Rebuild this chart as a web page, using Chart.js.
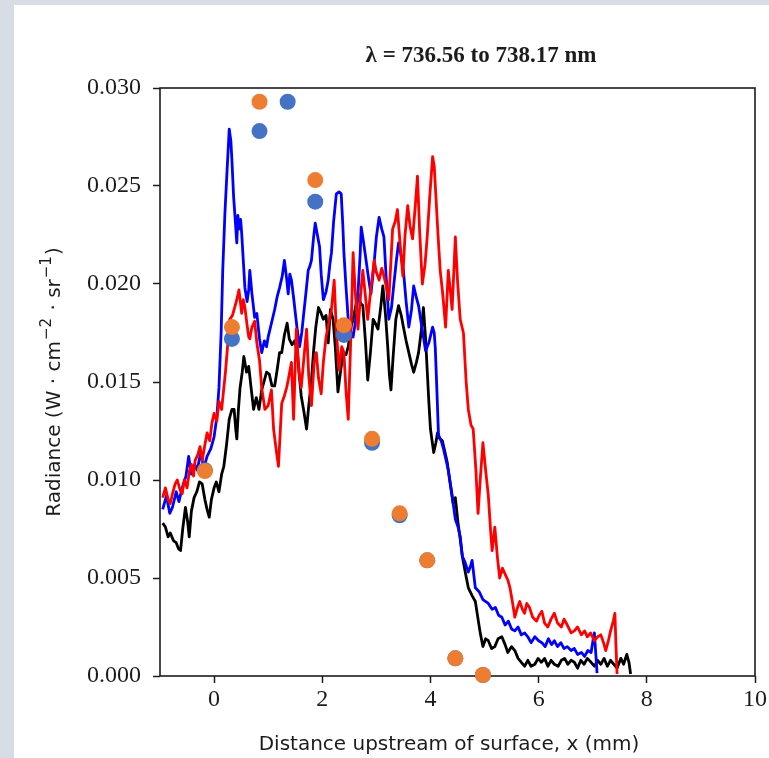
<!DOCTYPE html>
<html>
<head>
<meta charset="utf-8">
<script src="https://cdn.jsdelivr.net/npm/chart.js@4.4.1/dist/chart.umd.min.js"></script>
<style>
  html, body { margin: 0; padding: 0; }
  body { width: 769px; height: 758px; background: #d6dde4; position: relative; overflow: hidden; }
  .panel { position: absolute; left: 14px; top: 5px; right: 0; bottom: 0; background: #fff; }
  canvas { position: absolute; left: 0; top: 0; }
</style>
</head>
<body>
<div class="panel"></div>
<canvas id="chart" width="769" height="758"></canvas>
<script>
// axis ticks
const xTicks = [0, 2, 4, 6, 8, 10];
const yTicks = [0, 0.005, 0.010, 0.015, 0.020, 0.025, 0.030];

const chartTitle = 'λ = 736.56 to 738.17 nm';
const xTitle = 'Distance upstream of surface, x (mm)';

// measured profiles (x in mm, radiance in W cm^-2 sr^-1)
const blackX = [
  -0.95,-0.90,-0.85,-0.81,-0.75,-0.70,-0.66,-0.62,-0.58,-0.53,
  -0.49,-0.46,-0.42,-0.37,-0.32,-0.27,-0.22,-0.17,-0.13,-0.09,
  -0.05,0.00,0.04,0.09,0.14,0.18,0.23,0.28,0.33,0.37,
  0.40,0.42,0.45,0.48,0.52,0.55,0.60,0.64,0.68,0.73,
  0.78,0.83,0.88,0.93,0.97,1.02,1.07,1.12,1.17,1.21,
  1.25,1.30,1.35,1.39,1.44,1.49,1.54,1.58,1.61,1.66,
  1.71,1.75,1.80,1.84,1.88,1.93,1.98,2.02,2.07,2.11,
  2.15,2.20,2.24,2.29,2.34,2.39,2.44,2.48,2.53,2.57,
  2.62,2.66,2.71,2.75,2.80,2.84,2.89,2.94,2.98,3.03,
  3.08,3.12,3.17,3.21,3.24,3.27,3.31,3.36,3.41,3.46,
  3.50,3.55,3.60,3.65,3.69,3.74,3.78,3.83,3.87,3.91,
  3.94,3.97,4.00,4.03,4.06,4.10,4.13,4.18,4.22,4.27,
  4.31,4.36,4.42,4.46,4.51,4.55,4.59,4.65,4.70,4.77,
  4.83,4.88,4.92,4.97,5.02,5.07,5.13,5.19,5.25,5.32,
  5.38,5.43,5.50,5.56,5.62,5.68,5.74,5.80,5.86,5.93,
  5.99,6.05,6.11,6.17,6.23,6.29,6.36,6.42,6.48,6.54,
  6.60,6.66,6.72,6.78,6.84,6.90,6.97,7.03,7.09,7.15,
  7.21,7.27,7.33,7.39,7.45,7.52,7.57,7.63,7.67,7.70
];
const blackY = [
  0.0078,0.0076,0.0071,0.0073,0.0069,0.0068,0.0065,0.0064,0.0075,0.0086,
  0.0079,0.0071,0.0084,0.0091,0.0094,0.0099,0.0098,0.0090,0.0085,0.0081,
  0.0090,0.0096,0.0099,0.0094,0.0103,0.0107,0.0118,0.0131,0.0136,0.0136,
  0.0126,0.0121,0.0136,0.0147,0.0155,0.0163,0.0155,0.0158,0.0148,0.0136,
  0.0142,0.0136,0.0146,0.0151,0.0155,0.0154,0.0148,0.0148,0.0157,0.0165,
  0.0165,0.0174,0.0180,0.0172,0.0169,0.0171,0.0165,0.0152,0.0143,0.0135,
  0.0126,0.0138,0.0151,0.0166,0.0178,0.0188,0.0185,0.0182,0.0184,0.0170,
  0.0187,0.0182,0.0168,0.0145,0.0156,0.0165,0.0164,0.0168,0.0178,0.0182,
  0.0189,0.0195,0.0190,0.0189,0.0170,0.0151,0.0165,0.0182,0.0180,0.0177,
  0.0188,0.0199,0.0184,0.0168,0.0154,0.0146,0.0163,0.0182,0.0189,0.0184,
  0.0178,0.0171,0.0165,0.0159,0.0155,0.0160,0.0165,0.0176,0.0188,0.0172,
  0.0156,0.0140,0.0126,0.0120,0.0114,0.0119,0.0124,0.0121,0.0120,0.0114,
  0.0109,0.0099,0.0088,0.0091,0.0078,0.0070,0.0061,0.0052,0.0045,0.0041,
  0.0038,0.0029,0.0022,0.0015,0.0019,0.0018,0.0014,0.0015,0.0019,0.0020,
  0.0016,0.0012,0.0015,0.0013,0.0009,0.0007,0.0005,0.0008,0.0005,0.0006,
  0.0009,0.0007,0.0009,0.0005,0.0008,0.0006,0.0005,0.0008,0.0009,0.0006,
  0.0008,0.0007,0.0004,0.0008,0.0006,0.0009,0.0007,0.0005,0.0008,0.0006,
  0.0009,0.0005,0.0008,0.0006,0.0004,0.0009,0.0006,0.0011,0.0007,0.0001
];

const blueX = [
  -0.95,-0.88,-0.82,-0.77,-0.70,-0.65,-0.59,-0.52,-0.47,-0.42,
  -0.36,-0.31,-0.25,-0.19,-0.13,-0.06,0.00,0.05,0.09,0.13,
  0.16,0.20,0.24,0.28,0.31,0.33,0.36,0.39,0.42,0.44,
  0.46,0.49,0.51,0.54,0.57,0.61,0.64,0.66,0.70,0.75,
  0.79,0.84,0.88,0.93,0.97,1.00,1.06,1.12,1.17,1.21,
  1.26,1.30,1.34,1.37,1.40,1.43,1.47,1.49,1.54,1.58,
  1.62,1.65,1.70,1.74,1.77,1.80,1.84,1.87,1.91,1.95,
  1.98,2.02,2.07,2.11,2.14,2.17,2.21,2.26,2.31,2.35,
  2.38,2.40,2.44,2.48,2.52,2.57,2.62,2.66,2.70,2.72,
  2.76,2.81,2.86,2.90,2.95,3.00,3.05,3.10,3.14,3.18,
  3.23,3.28,3.32,3.37,3.41,3.46,3.50,3.55,3.60,3.65,
  3.69,3.74,3.78,3.84,3.91,3.97,4.04,4.07,4.09,4.12,
  4.15,4.20,4.24,4.29,4.33,4.38,4.42,4.46,4.51,4.55,
  4.59,4.64,4.70,4.74,4.77,4.83,4.90,4.97,5.07,5.14,
  5.20,5.26,5.32,5.38,5.44,5.50,5.56,5.62,5.68,5.74,
  5.80,5.86,5.93,6.00,6.06,6.12,6.18,6.24,6.29,6.35,
  6.41,6.47,6.53,6.60,6.66,6.72,6.79,6.85,6.91,6.97,
  7.01,7.03,7.06,7.08
];
const blueY = [
  0.0085,0.0092,0.0083,0.0086,0.0094,0.0089,0.0096,0.0102,0.0112,0.0103,
  0.0108,0.0105,0.0114,0.0106,0.0112,0.0116,0.0122,0.0132,0.0147,0.0175,
  0.0207,0.0236,0.0258,0.0279,0.0273,0.0263,0.0245,0.0233,0.0221,0.0235,
  0.0228,0.0233,0.0226,0.0212,0.0198,0.0191,0.0197,0.0207,0.0195,0.0183,
  0.0185,0.0172,0.0165,0.0171,0.0168,0.0173,0.0180,0.0187,0.0194,0.0198,
  0.0204,0.0212,0.0203,0.0195,0.0205,0.0202,0.0193,0.0188,0.0176,0.0168,
  0.0175,0.0183,0.0196,0.0207,0.0209,0.0212,0.0224,0.0231,0.0225,0.0219,
  0.0205,0.0192,0.0196,0.0202,0.0210,0.0216,0.0232,0.0246,0.0247,0.0246,
  0.0230,0.0216,0.0198,0.0182,0.0176,0.0173,0.0182,0.0195,0.0215,0.0229,
  0.0222,0.0212,0.0202,0.0195,0.0208,0.0224,0.0234,0.0228,0.0224,0.0204,
  0.0182,0.0188,0.0199,0.0212,0.0221,0.0214,0.0207,0.0191,0.0178,0.0187,
  0.0199,0.0193,0.0189,0.0178,0.0166,0.0170,0.0178,0.0175,0.0167,0.0145,
  0.0122,0.0120,0.0116,0.0110,0.0105,0.0096,0.0088,0.0080,0.0076,0.0071,
  0.0061,0.0058,0.0053,0.0056,0.0059,0.0045,0.0043,0.0039,0.0037,0.0034,
  0.0035,0.0031,0.0030,0.0026,0.0028,0.0024,0.0023,0.0025,0.0021,0.0022,
  0.0020,0.0017,0.0020,0.0018,0.0017,0.0015,0.0019,0.0016,0.0018,0.0015,
  0.0017,0.0014,0.0015,0.0013,0.0014,0.0011,0.0012,0.0010,0.0013,0.0012,
  0.0019,0.0022,0.0010,0.00015
];

const redX = [
  -0.95,-0.90,-0.85,-0.81,-0.76,-0.72,-0.68,-0.63,-0.59,-0.55,
  -0.50,-0.46,-0.42,-0.38,-0.35,-0.30,-0.26,-0.22,-0.17,-0.13,
  -0.08,-0.04,0.00,0.05,0.09,0.14,0.18,0.21,0.24,0.27,
  0.29,0.34,0.39,0.42,0.46,0.49,0.51,0.54,0.57,0.61,
  0.64,0.66,0.70,0.75,0.79,0.84,0.88,0.94,1.00,1.06,
  1.10,1.15,1.19,1.22,1.25,1.30,1.34,1.37,1.43,1.47,
  1.52,1.57,1.61,1.66,1.71,1.75,1.80,1.85,1.89,1.93,
  1.98,2.02,2.07,2.12,2.17,2.22,2.26,2.31,2.36,2.40,
  2.44,2.48,2.53,2.57,2.61,2.66,2.71,2.75,2.80,2.84,
  2.90,2.96,3.00,3.05,3.10,3.14,3.19,3.23,3.27,3.30,
  3.35,3.39,3.44,3.49,3.53,3.58,3.62,3.67,3.72,3.76,
  3.80,3.85,3.90,3.94,3.99,4.04,4.07,4.09,4.14,4.18,
  4.23,4.28,4.33,4.37,4.40,4.43,4.46,4.50,4.55,4.61,
  4.66,4.70,4.75,4.79,4.84,4.88,4.92,4.97,5.02,5.07,
  5.11,5.14,5.19,5.24,5.28,5.33,5.38,5.43,5.47,5.52,
  5.56,5.61,5.65,5.70,5.74,5.78,5.83,5.89,5.96,6.01,
  6.06,6.11,6.17,6.23,6.29,6.35,6.42,6.47,6.53,6.60,
  6.66,6.72,6.79,6.85,6.90,6.96,7.03,7.09,7.15,7.20,
  7.24,7.29,7.33,7.38,7.41,7.43,7.45
];
const redY = [
  0.0091,0.0096,0.0090,0.0088,0.0094,0.0098,0.0100,0.0095,0.0093,0.0100,
  0.0096,0.0104,0.0108,0.0102,0.0110,0.0113,0.0117,0.0110,0.0118,0.0124,
  0.0120,0.0129,0.0134,0.0130,0.0140,0.0136,0.0147,0.0155,0.0165,0.0176,
  0.0182,0.0184,0.0189,0.0192,0.0197,0.0190,0.0185,0.0192,0.0188,0.0179,
  0.0173,0.0172,0.0178,0.0181,0.0170,0.0161,0.0147,0.0136,0.0138,0.0146,
  0.0126,0.0115,0.0107,0.0123,0.0139,0.0143,0.0147,0.0151,0.0160,0.0131,
  0.0177,0.0155,0.0147,0.0162,0.0177,0.0153,0.0138,0.0160,0.0165,0.0152,
  0.0144,0.0160,0.0173,0.0180,0.0187,0.0202,0.0176,0.0156,0.0168,0.0165,
  0.0145,0.0131,0.0175,0.0216,0.0196,0.0177,0.0195,0.0207,0.0193,0.0182,
  0.0198,0.0212,0.0206,0.0202,0.0208,0.0204,0.0198,0.0192,0.0212,0.0228,
  0.0232,0.0238,0.0220,0.0204,0.0225,0.0240,0.0230,0.0223,0.0240,0.0255,
  0.0227,0.0200,0.0210,0.0224,0.0246,0.0265,0.0260,0.0250,0.0225,0.0207,
  0.0194,0.0178,0.0207,0.0196,0.0187,0.0205,0.0224,0.0202,0.0182,0.0175,
  0.0150,0.0136,0.0128,0.0126,0.0105,0.0083,0.0100,0.0119,0.0105,0.0092,
  0.0075,0.0064,0.0076,0.0060,0.0050,0.0055,0.0052,0.0049,0.0045,0.0037,
  0.0030,0.0035,0.0038,0.0034,0.0032,0.0037,0.0035,0.0030,0.0028,0.0031,
  0.0033,0.0027,0.0025,0.0029,0.0032,0.0027,0.0025,0.0029,0.0026,0.0022,
  0.0023,0.0025,0.0021,0.0023,0.0020,0.0022,0.0018,0.0020,0.0021,0.0017,
  0.0013,0.0018,0.0023,0.0028,0.0032,0.0015,0.0001
];

// model points
const blueDotX = [-0.17, 0.33, 0.84, 1.36, 1.87, 2.40, 2.92, 3.43, 3.94, 4.46, 4.97];
const blueDotY = [0.0105, 0.0172, 0.0278, 0.0293, 0.0242, 0.0174, 0.0119, 0.0082, 0.0059, 0.0009, 0.00005];
const orangeDotX = [-0.17, 0.33, 0.84, 1.87, 2.40, 2.92, 3.43, 3.94, 4.46, 4.97];
const orangeDotY = [0.01046, 0.0178, 0.0293, 0.0253, 0.0179, 0.0121, 0.0083, 0.0059, 0.0009, 0.00005];

const toPoints = (xs, ys) => xs.map((x, i) => ({ x, y: ys[i] }));

const lineSet = (xs, ys, color) => ({
  data: toPoints(xs, ys),
  showLine: true,
  borderColor: color,
  borderWidth: 2.8,
  pointRadius: 0,
  tension: 0,
  borderJoinStyle: 'round',
});

const dotSet = (xs, ys, color) => ({
  data: toPoints(xs, ys),
  showLine: false,
  backgroundColor: color,
  borderWidth: 0,
  pointRadius: 8,
  clip: false,
});

const axisFont = { family: '"Liberation Serif", serif', size: 24 };
const inkColor = '#1c1c1c';

const extras = {
  id: 'extras',
  beforeDatasetsDraw(chart) {
    const { ctx, chartArea: a } = chart;
    ctx.save();
    ctx.strokeStyle = inkColor;
    ctx.lineWidth = 1.6;
    ctx.strokeRect(a.left, a.top, a.right - a.left, a.bottom - a.top);
    ctx.restore();
  },
  afterDraw(chart) {
    const ctx = chart.ctx;
    ctx.save();
    ctx.fillStyle = inkColor;
    ctx.textBaseline = 'alphabetic';
    ctx.textAlign = 'center';

    ctx.font = 'bold 23px "Liberation Serif", serif';
    ctx.fillText(chartTitle, 481, 62);

    ctx.font = '20px "DejaVu Sans", sans-serif';
    ctx.fillText(xTitle, 449, 750);

    // y title with superscripts
    const runs = [
      ['Radiance (W · cm', false], ['−2', true], [' · sr', false], ['−1', true], [')', false]
    ];
    const normal = '20px "DejaVu Sans", sans-serif';
    const small = '15px "DejaVu Sans", sans-serif';
    let total = 0;
    runs.forEach(([t, sup]) => { ctx.font = sup ? small : normal; total += ctx.measureText(t).width + (sup ? 2 : 0); });
    ctx.translate(60, 382);
    ctx.rotate(-Math.PI / 2);
    ctx.textAlign = 'left';
    let pos = -total / 2;
    runs.forEach(([t, sup]) => {
      ctx.font = sup ? small : normal;
      ctx.fillText(t, pos + (sup ? 1 : 0), sup ? -9 : 0);
      pos += ctx.measureText(t).width + (sup ? 2 : 0);
    });
    ctx.restore();
  }
};

new Chart(document.getElementById('chart'), {
  type: 'scatter',
  data: {
    datasets: [
      dotSet(orangeDotX, orangeDotY, '#ed7d31'),
      dotSet(blueDotX, blueDotY, '#4472c4'),
      lineSet(redX, redY, '#ff0000'),
      lineSet(blueX, blueY, '#0000ff'),
      lineSet(blackX, blackY, '#000000'),
    ]
  },
  options: {
    responsive: false,
    animation: false,
    devicePixelRatio: 1,
    layout: { padding: { top: 88, right: 13, left: 0, bottom: 0 } },
    plugins: {
      legend: { display: false },
      tooltip: { enabled: false },
    },
    scales: {
      x: {
        type: 'linear',
        min: -1,
        max: 10,
        afterBuildTicks: s => { s.ticks = xTicks.map(v => ({ value: v })); },
        afterFit: s => { s.height = 82; },
        border: { display: false },
        grid: { drawOnChartArea: false, drawTicks: true, tickLength: 7, tickWidth: 1.5, tickColor: inkColor },
        ticks: { font: axisFont, color: inkColor, padding: 2, maxRotation: 0, autoSkip: false, callback: v => String(v) },
      },
      y: {
        type: 'linear',
        min: 0,
        max: 0.03,
        afterBuildTicks: s => { s.ticks = yTicks.map(v => ({ value: v })); },
        afterFit: s => { s.width = 160; },
        border: { display: false },
        grid: { drawOnChartArea: false, drawTicks: true, tickLength: 7, tickWidth: 1.5, tickColor: inkColor },
        ticks: { font: axisFont, color: inkColor, padding: 12, autoSkip: false, callback: v => v.toFixed(3) },
      }
    }
  },
  plugins: [extras]
});
</script>
</body>
</html>
